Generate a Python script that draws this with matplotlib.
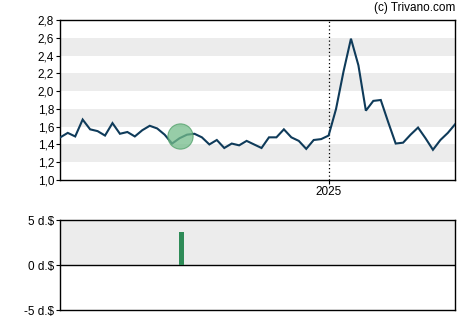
import matplotlib
matplotlib.use("Agg")
import matplotlib.pyplot as plt
import numpy as np

plt.rcParams['font.family'] = ['Liberation Sans', 'DejaVu Sans']

# Weekly closing prices (index positions), 2025 starts at index 36
prices = [1.48, 1.53, 1.49, 1.68, 1.57, 1.55, 1.50, 1.64, 1.52, 1.54,
          1.49, 1.56, 1.61, 1.58, 1.51, 1.41, 1.47, 1.51, 1.52, 1.48,
          1.40, 1.45, 1.36, 1.41, 1.39, 1.44, 1.40, 1.36, 1.48, 1.48,
          1.57, 1.48, 1.44, 1.35, 1.45, 1.46, 1.50, 1.80, 2.22, 2.59,
          2.29, 1.78, 1.89, 1.90, 1.65, 1.41, 1.42, 1.51, 1.59, 1.47,
          1.34, 1.45, 1.53, 1.63]
year_tick_index = 36
year_tick_label = "2025"
event_index = 16.1
event_value = 1.49
dividend_values = [3.7]
dividend_index = [16.3]
price_ticks = [1.0, 1.2, 1.4, 1.6, 1.8, 2.0, 2.2, 2.4, 2.6, 2.8]
price_tick_labels = ["1,0", "1,2", "1,4", "1,6", "1,8", "2,0", "2,2", "2,4", "2,6", "2,8"]
div_ticks = [-5, 0, 5]
div_tick_labels = ["-5 d.$", "0 d.$", "5 d.$"]

W, H = 470, 325
fig = plt.figure(figsize=(W / 100, H / 100), dpi=100)

L = 60.3 / W
Wd = 395 / W
ax = fig.add_axes([L, (H - 180) / H, Wd, 160 / H])
x = np.arange(len(prices))
ax.set_xlim(0, len(prices) - 1)
ax.set_ylim(1.0, 2.8)
for lo in [1.2, 1.6, 2.0, 2.4]:
    ax.axhspan(lo, lo + 0.2, color="#ececec", lw=0, zorder=0)
ax.plot(x, prices, color="#0f3b5a", lw=1.5, zorder=3, solid_joinstyle="miter")
ax.axvline(year_tick_index, color="black", lw=0.9, ls=(0, (1, 2)), zorder=2)
ax.scatter([event_index], [event_value], s=330, color="#74bd8b", alpha=0.75,
           edgecolor="#4f9f68", linewidth=0.8, zorder=4)
ax.set_yticks(price_ticks)
ax.set_yticklabels(price_tick_labels)
ax.set_xticks([year_tick_index])
ax.set_xticklabels([year_tick_label])
ax.tick_params(axis="both", labelsize=8.5, length=3, width=0.8, pad=1.5, colors="black")
for s in ax.spines.values():
    s.set_linewidth(1.0)
fig.text(455 / W, 1 - 8 / H, "(c) Trivano.com", ha="right", va="center", fontsize=8.5)

ax2 = fig.add_axes([L, (H - 310) / H, Wd, 89.7 / H])
ax2.set_xlim(0, len(prices) - 1)
ax2.set_ylim(-5, 5)
ax2.axhspan(0, 5, color="#ececec", lw=0, zorder=0)
ax2.axhline(0, color="black", lw=1.0, zorder=2)
ax2.bar(dividend_index, dividend_values, width=0.65, color="#2e8b57", zorder=3)
ax2.set_yticks(div_ticks)
ax2.set_yticklabels(div_tick_labels)
ax2.set_xticks([])
ax2.tick_params(axis="y", labelsize=8.5, length=3, width=0.8, pad=1.5)
for s in ax2.spines.values():
    s.set_linewidth(1.0)

fig.savefig("out.png", dpi=100)
